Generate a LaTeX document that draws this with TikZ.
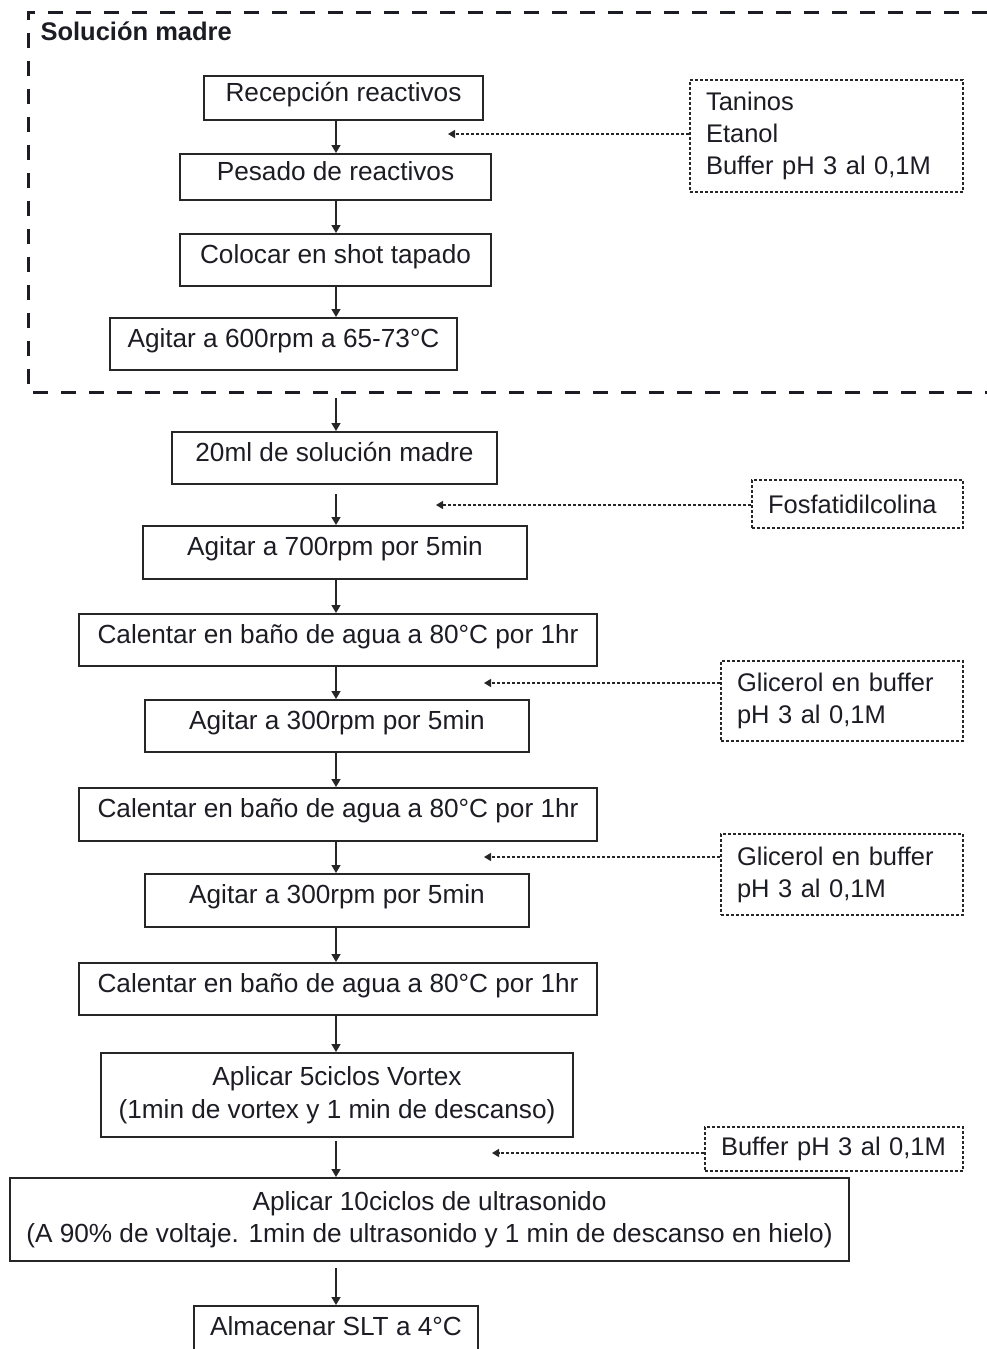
\documentclass[tikz,border=0pt]{standalone}
\usepackage{fontspec}
\setmainfont{Liberation Sans}
\usetikzlibrary{arrows.meta}
\definecolor{fcink}{HTML}{1C1C24}
\definecolor{fcedge}{HTML}{262626}

\begin{document}
\begin{tikzpicture}[x=1pt, y=-1pt, font=\fontsize{25.5}{32}\selectfont, text=fcink,
    proc/.style={draw=fcedge, line width=2pt, inner sep=0pt, text height=18pt, text depth=12pt, font=\fontsize{26.2}{32}\selectfont},
    proctwo/.style={draw=fcedge, line width=2pt, inner sep=0pt, align=center, font=\fontsize{26.2}{32.5}\selectfont},
    extra/.style={draw=fcedge, line width=1.3pt, dash pattern=on 3pt off 2pt, inner xsep=16pt, inner ysep=0pt, align=left},
    flow/.style={draw=fcedge, line width=1.6pt, -{Triangle[length=8pt, width=9pt]}},
    feed/.style={draw=fcedge, line width=1.3pt, dash pattern=on 3pt off 2pt, -{Triangle[length=7pt, width=8pt]}},
    frame/.style={draw=fcink, line width=3pt, dash pattern=on 15pt off 13pt},
  ]
  \useasboundingbox (0,0) rectangle (987,1349);
  \clip (0,0) rectangle (987,1349);

  % stock solution frame (runs off the right edge)
  \draw[frame] (987,12) -- (28,12) -- (28,392) -- (987,392);
  \coordinate (fbase) at (28,392);
  \node[anchor=base west, font=\fontsize{25.5}{32}\selectfont\bfseries] (title) at (37,40) {Solución madre};

  % x of the main column of arrows
  \coordinate (spine) at (336,0);

  % steps inside the frame
  \node[proc, minimum width=279pt, minimum height=44pt] (recep) at (343.5,98) {Recepción reactivos};
  \node[proc, minimum width=311pt, minimum height=46pt] (pesado) at (335.5,177) {Pesado de reactivos};
  \node[proc, minimum width=311pt, minimum height=52pt] (colocar) at (335.5,260) {Colocar en shot tapado};
  \node[proc, minimum width=347pt, minimum height=52pt] (agitA) at (283.5,344) {Agitar a 600rpm a 65-73°C};

  % main column
  \node[proc, minimum width=325pt, minimum height=52pt] (ml20) at (334.5,458) {20ml de solución madre};
  \node[proc, minimum width=384pt, minimum height=53pt] (agitB) at (335,552.5) {Agitar a 700rpm por 5min};
  \node[proc, minimum width=518pt, minimum height=52pt] (calA) at (338,640) {Calentar en baño de agua a 80°C por 1hr};
  \node[proc, minimum width=384pt, minimum height=52pt] (agitC) at (337,726) {Agitar a 300rpm por 5min};
  \node[proc, minimum width=518pt, minimum height=53pt] (calB) at (338,814.5) {Calentar en baño de agua a 80°C por 1hr};
  \node[proc, minimum width=384pt, minimum height=53pt] (agitD) at (337,900.5) {Agitar a 300rpm por 5min};
  \node[proc, minimum width=518pt, minimum height=52pt] (calC) at (338,989) {Calentar en baño de agua a 80°C por 1hr};
  \node[proctwo, minimum width=472pt, minimum height=84pt] (vortex) at (337,1095)
    {Aplicar 5ciclos Vortex\\(1min de vortex y 1 min de descanso)};
  \node[proctwo, minimum width=839pt, minimum height=83pt] (ultra) at (429.5,1219.5)
    {Aplicar 10ciclos de ultrasonido\\(A 90\% de voltaje. 1min de ultrasonido y 1 min de descanso en hielo)};
  \node[proc, minimum width=284pt, minimum height=52pt] (almac) at (336,1332) {Almacenar SLT a 4°C};

  % added materials
  \node[extra, text width=241pt, minimum height=112pt] (taninos) at (826.5,136) {Taninos\\Etanol\\Buffer pH 3 al 0,1M};
  \node[extra, text width=179pt, minimum height=48pt] (fosfa) at (857.5,504) {Fosfatidilcolina};
  \node[extra, text width=210pt, minimum height=80pt] (glicA) at (842,701) {Glicerol en buffer\\pH 3 al 0,1M};
  \node[extra, text width=210pt, minimum height=81pt] (glicB) at (842,874.5) {Glicerol en buffer\\pH 3 al 0,1M};
  \node[extra, text width=226pt, minimum height=44pt] (buffer) at (834,1149) {Buffer pH 3 al 0,1M};

  % arrow ends of the dashed feeds
  \coordinate (inA) at (448,134);
  \coordinate (inB) at (436,505);
  \coordinate (inC) at (484,683);
  \coordinate (inD) at (484,857);
  \coordinate (inE) at (492,1153);

  % main flow
  \draw[flow] (recep.south -| spine) -- (pesado.north -| spine);
  \draw[flow] (pesado.south -| spine) -- (colocar.north -| spine);
  \draw[flow] (colocar.south -| spine) -- (agitA.north -| spine);
  \draw[flow, shorten <=6pt] (fbase -| spine) -- (ml20.north -| spine);
  \draw[flow, shorten <=9pt] (ml20.south -| spine) -- (agitB.north -| spine);
  \draw[flow] (agitB.south -| spine) -- (calA.north -| spine);
  \draw[flow] (calA.south -| spine) -- (agitC.north -| spine);
  \draw[flow] (agitC.south -| spine) -- (calB.north -| spine);
  \draw[flow] (calB.south -| spine) -- (agitD.north -| spine);
  \draw[flow] (agitD.south -| spine) -- (calC.north -| spine);
  \draw[flow] (calC.south -| spine) -- (vortex.north -| spine);
  \draw[flow, shorten <=3pt] (vortex.south -| spine) -- (ultra.north -| spine);
  \draw[flow, shorten <=6pt] (ultra.south -| spine) -- (almac.north -| spine);

  % feeds
  \draw[feed] (taninos.west |- inA) -- (inA);
  \draw[feed] (fosfa.west |- inB) -- (inB);
  \draw[feed] (glicA.west |- inC) -- (inC);
  \draw[feed] (glicB.west |- inD) -- (inD);
  \draw[feed] (buffer.west |- inE) -- (inE);
\end{tikzpicture}
\end{document}
